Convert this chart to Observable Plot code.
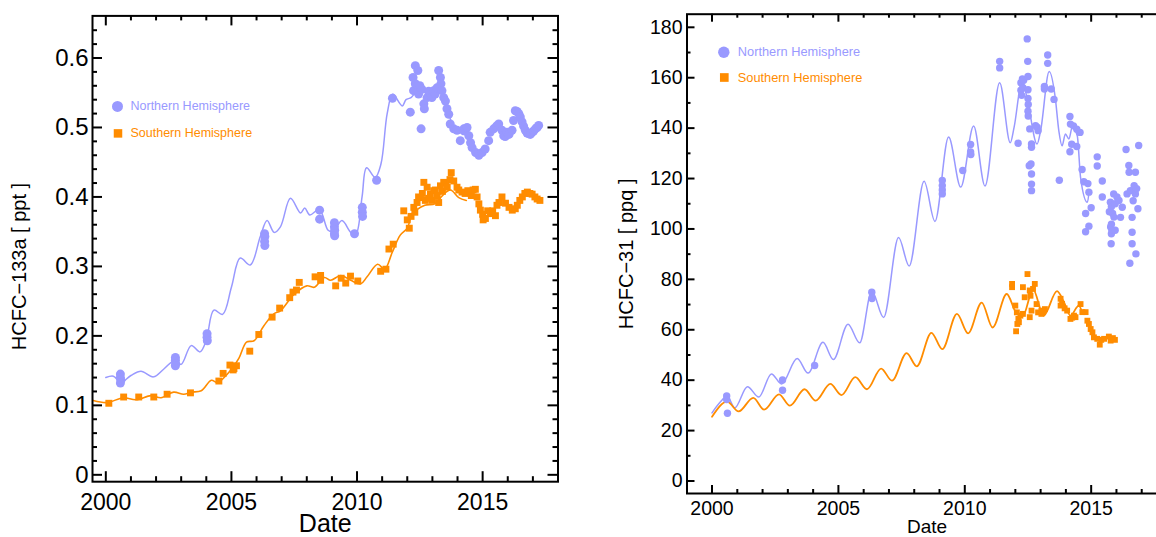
<!DOCTYPE html>
<html><head><meta charset="utf-8">
<script src="https://cdn.jsdelivr.net/npm/d3@7"></script>
<script src="https://cdn.jsdelivr.net/npm/@observablehq/plot@0.6"></script>
<style>
html,body{margin:0;padding:0;background:#fff;width:1156px;height:537px;overflow:hidden;position:relative;}
#p1{position:absolute;left:0;top:0;width:580px;height:537px;}
#p2{position:absolute;left:580px;top:0;width:600px;height:537px;}
#p1 svg,#p2 svg{max-width:none !important;display:block;}
</style></head>
<body><div id="p1"></div><div id="p2"></div>
<script>
const BLUE = "#9999ff";
const ORANGE = "#ff8c00";
const FONT = "'Liberation Sans', Arial, Helvetica, sans-serif";

const legendLabels = ["Northern Hemisphere", "Southern Hemisphere"];
const xTitle = "Date";

// ---------- HCFC-133a (left) ----------
const yTitle133 = "HCFC\u2212133a [ ppt ]";
const xMajor133 = [2000, 2005, 2010, 2015];
const xMinor133 = [2001, 2002, 2003, 2004, 2006, 2007, 2008, 2009, 2011, 2012, 2013, 2014, 2016, 2017];
const yMajor133 = [0, 0.1, 0.2, 0.3, 0.4, 0.5, 0.6];
const yMinor133 = [0.02, 0.04, 0.06, 0.08, 0.12, 0.14, 0.16, 0.18, 0.22, 0.24, 0.26, 0.28, 0.32, 0.34, 0.36, 0.38, 0.42, 0.44, 0.46, 0.48, 0.52, 0.54, 0.56, 0.58, 0.62, 0.64];

const nhLine133 = [[2000.0,0.140],[2000.3,0.142],[2000.6,0.133],[2001.0,0.143],[2001.4,0.149],[2001.9,0.141],[2002.3,0.152],[2002.75,0.165],[2003.0,0.159],[2003.4,0.186],[2003.75,0.177],[2004.0,0.194],[2004.3,0.237],[2004.65,0.231],[2005.0,0.27],[2005.35,0.312],[2005.75,0.302],[2006.15,0.343],[2006.42,0.366],[2006.7,0.349],[2006.95,0.357],[2007.35,0.398],[2007.75,0.377],[2007.92,0.384],[2008.12,0.374],[2008.5,0.382],[2008.85,0.352],[2009.05,0.350],[2009.4,0.366],[2009.75,0.349],[2009.95,0.346],[2010.2,0.40],[2010.38,0.442],[2010.72,0.428],[2010.95,0.447],[2011.2,0.52],[2011.42,0.548],[2011.8,0.531],[2011.95,0.54],[2012.15,0.543],[2012.5,0.556],[2012.9,0.545],[2013.3,0.558],[2013.5,0.535],[2013.85,0.502],[2014.2,0.49]];
const shLine133 = [[1999.5,0.107],[2000.05,0.104],[2000.7,0.111],[2001.2,0.108],[2001.8,0.114],[2002.2,0.111],[2002.7,0.119],[2003.1,0.116],[2003.4,0.119],[2003.8,0.121],[2004.2,0.136],[2004.45,0.133],[2005.0,0.152],[2005.3,0.168],[2005.6,0.191],[2005.9,0.193],[2006.3,0.215],[2006.7,0.232],[2006.95,0.236],[2007.5,0.260],[2008.0,0.272],[2008.3,0.270],[2008.7,0.284],[2008.95,0.280],[2009.35,0.287],[2009.75,0.280],[2010.15,0.275],[2010.4,0.285],[2010.82,0.303],[2011.1,0.296],[2011.4,0.320],[2011.72,0.345],[2012.0,0.355],[2012.2,0.375],[2012.7,0.388],[2013.1,0.390],[2013.4,0.402],[2013.72,0.410],[2014.05,0.399],[2014.35,0.395]];
const nhDots133 = [[2000.58,0.145],[2000.58,0.140],[2000.6,0.136],[2000.58,0.132],[2002.77,0.169],[2002.77,0.165],[2002.78,0.160],[2002.77,0.157],[2004.03,0.203],[2004.03,0.198],[2004.04,0.193],[2006.32,0.347],[2006.33,0.343],[2006.32,0.336],[2006.33,0.330],[2008.51,0.381],[2008.51,0.368],[2009.1,0.363],[2009.1,0.357],[2009.11,0.352],[2009.1,0.347],[2009.11,0.344],[2009.9,0.347],[2010.21,0.385],[2010.21,0.378],[2010.22,0.372],[2010.78,0.424],[2011.41,0.542],[2012.12,0.522],[2012.23,0.572],[2012.25,0.553],[2012.32,0.589],[2012.32,0.563],[2012.42,0.582],[2012.45,0.548],[2012.5,0.560],[2012.55,0.498],[2012.58,0.555],[2012.66,0.534],[2012.68,0.527],[2012.79,0.543],[2012.85,0.552],[2012.92,0.550],[2012.98,0.543],[2013.05,0.553],[2013.11,0.548],[2013.18,0.557],[2013.25,0.582],[2013.32,0.572],[2013.34,0.563],[2013.38,0.553],[2013.45,0.543],[2013.52,0.538],[2013.58,0.527],[2013.65,0.519],[2013.71,0.505],[2013.85,0.498],[2013.98,0.496],[2014.11,0.481],[2014.25,0.498],[2014.3,0.495],[2014.38,0.500],[2014.45,0.488],[2014.52,0.478],[2014.58,0.471],[2014.72,0.464],[2014.85,0.460],[2014.98,0.464],[2015.1,0.469],[2015.24,0.481],[2015.3,0.493],[2015.44,0.498],[2015.55,0.502],[2015.64,0.505],[2015.77,0.496],[2015.84,0.488],[2015.9,0.487],[2015.97,0.493],[2016.05,0.49],[2016.17,0.496],[2016.23,0.51],[2016.3,0.524],[2016.37,0.523],[2016.44,0.520],[2016.5,0.515],[2016.57,0.508],[2016.63,0.502],[2016.7,0.496],[2016.77,0.492],[2016.84,0.491],[2016.9,0.49],[2016.97,0.493],[2017.03,0.495],[2017.1,0.498],[2017.17,0.5],[2017.23,0.503]];
const shDots133 = [[2000.12,0.103],[2000.71,0.112],[2001.31,0.112],[2001.91,0.112],[2002.44,0.116],[2003.37,0.118],[2004.5,0.135],[2004.67,0.146],[2004.94,0.158],[2005.07,0.151],[2005.1,0.153],[2005.2,0.157],[2005.73,0.178],[2006.09,0.202],[2006.62,0.227],[2006.92,0.240],[2007.32,0.255],[2007.45,0.263],[2007.59,0.266],[2007.7,0.277],[2008.33,0.285],[2008.55,0.287],[2008.55,0.280],[2009.15,0.272],[2009.37,0.283],[2009.55,0.276],[2009.74,0.286],[2010.03,0.279],[2010.94,0.293],[2011.15,0.296],[2011.27,0.325],[2011.44,0.332],[2011.86,0.380],[2012.0,0.367],[2012.08,0.355],[2012.15,0.372],[2012.26,0.385],[2012.3,0.378],[2012.39,0.392],[2012.45,0.40],[2012.52,0.399],[2012.6,0.405],[2012.66,0.421],[2012.72,0.395],[2012.79,0.414],[2012.85,0.398],[2012.92,0.404],[2013.0,0.395],[2013.05,0.409],[2013.12,0.41],[2013.19,0.402],[2013.25,0.392],[2013.32,0.416],[2013.4,0.408],[2013.45,0.421],[2013.55,0.42],[2013.59,0.414],[2013.7,0.425],[2013.75,0.435],[2013.85,0.423],[2013.98,0.414],[2014.05,0.41],[2014.18,0.407],[2014.3,0.405],[2014.41,0.409],[2014.55,0.402],[2014.62,0.41],[2014.71,0.411],[2014.78,0.400],[2014.85,0.39],[2014.91,0.381],[2015.0,0.375],[2015.02,0.367],[2015.11,0.369],[2015.2,0.38],[2015.31,0.376],[2015.4,0.38],[2015.51,0.373],[2015.57,0.388],[2015.65,0.392],[2015.77,0.400],[2015.91,0.391],[2016.05,0.385],[2016.18,0.381],[2016.3,0.383],[2016.38,0.388],[2016.48,0.395],[2016.58,0.400],[2016.68,0.405],[2016.78,0.407],[2016.88,0.405],[2016.97,0.404],[2017.08,0.4],[2017.17,0.397],[2017.28,0.395]];

// ---------- HCFC-31 (right) ----------
const yTitle31 = "HCFC\u221231 [ ppq ]";
const xMajor31 = [2000, 2005, 2010, 2015];
const xMinor31 = [2001, 2002, 2003, 2004, 2006, 2007, 2008, 2009, 2011, 2012, 2013, 2014, 2016, 2017];
const yMajor31 = [0, 20, 40, 60, 80, 100, 120, 140, 160, 180];
const yMinor31 = [10, 30, 50, 70, 90, 110, 130, 150, 170];

const nhLine31 = [[2000.0,27],[2000.3,31],[2000.6,33.6],[2000.9,29],[2001.4,37.4],[2001.85,33.3],[2002.35,42.5],[2002.75,38.5],[2003.37,48.6],[2003.8,42.8],[2004.39,55],[2004.8,48.2],[2005.38,62.2],[2005.84,54.8],[2006.32,75.4],[2006.79,64.9],[2007.38,96.6],[2007.8,85.3],[2008.39,118.9],[2008.82,103],[2009.36,136.5],[2009.84,116.6],[2010.35,140.8],[2010.8,117],[2011.38,158],[2011.8,134.2],[2011.95,140.3],[2012.27,159],[2012.5,150],[2012.86,133.7],[2013.0,139],[2013.34,162.5],[2013.58,152],[2013.72,139],[2013.85,133],[2013.98,137.7],[2014.12,135.7],[2014.25,140.3],[2014.45,137],[2014.58,120.5],[2014.85,110.6],[2014.92,115]];
const shLine31 = [[2000.0,25.5],[2000.6,31.5],[2001.05,27.6],[2001.63,33],[2002.06,28.3],[2002.65,34.4],[2003.08,29.9],[2003.66,36.4],[2004.1,31.9],[2004.68,38.5],[2005.12,34.1],[2005.67,41.2],[2006.13,36.4],[2006.69,44.6],[2007.12,39.8],[2007.7,50.7],[2008.1,45.5],[2008.68,58.8],[2009.11,52.3],[2009.69,66.3],[2010.13,58.6],[2010.67,70.8],[2011.1,60.9],[2011.66,74.2],[2012.02,67],[2012.3,65.6],[2012.7,76],[2013.12,65.6],[2013.65,75.3],[2013.92,71],[2014.18,65.6],[2014.51,69.6],[2014.64,67]];
const nhDots31 = [[2000.58,33.7],[2000.58,32.3],[2000.61,26.9],[2002.79,40.1],[2002.79,36.0],[2004.06,45.8],[2006.32,74.9],[2006.33,72.4],[2009.11,119.2],[2009.11,117.2],[2009.11,115.5],[2009.11,113.9],[2009.92,123.2],[2010.23,133.5],[2010.23,130.5],[2010.24,129.5],[2011.38,166.5],[2011.38,163.9],[2012.11,134],[2012.22,158],[2012.28,159.5],[2012.33,159],[2012.22,155],[2012.25,153],[2012.3,156],[2012.47,175.4],[2012.49,166.5],[2012.5,160.5],[2012.5,155.2],[2012.5,151.8],[2012.51,149.4],[2012.5,146.7],[2012.51,144.8],[2012.57,139.7],[2012.64,133.7],[2012.64,132.4],[2012.55,125.1],[2012.62,125.8],[2012.64,121.8],[2012.64,117.8],[2012.64,115.2],[2012.86,140.4],[2012.9,139],[2012.8,141],[2013.15,155.5],[2013.15,156.5],[2013.28,169],[2013.28,165.7],[2013.42,155.5],[2013.53,151.4],[2013.74,119.3],[2014.16,144.6],[2014.18,141.6],[2014.3,140.9],[2014.43,139.6],[2014.56,138.3],[2014.16,130.6],[2014.23,133.6],[2014.43,132.7],[2014.64,123.6],[2014.71,118.7],[2014.87,118],[2014.91,114.6],[2014.78,106.1],[2014.78,98.9],[2014.91,101.1],[2015.0,108.4],[2015.24,128.6],[2015.24,125],[2015.44,119],[2015.44,112.7],[2015.76,110.6],[2015.8,108.8],[2015.72,106.8],[2015.85,106.1],[2015.8,101.9],[2015.77,100.8],[2015.8,98.1],[2015.82,99.5],[2015.79,94.1],[2015.89,113.9],[2015.95,110],[2016.02,112.7],[2015.9,104.7],[2015.95,99.5],[2016.1,111.3],[2016.16,104.6],[2016.23,108.6],[2016.42,113.9],[2016.55,115.2],[2016.38,131.5],[2016.49,125.2],[2016.5,122.5],[2016.75,122.5],[2016.75,113.9],[2016.62,104.6],[2016.62,98.7],[2016.62,94.1],[2016.53,86.4],[2016.77,90.1],[2016.85,108],[2016.88,133.1],[2016.7,117.2],[2016.66,111.2],[2016.8,116]];
const shDots31 = [[2011.87,78.2],[2011.87,76.9],[2012.0,69.6],[2012.06,66.9],[2012.12,64.3],[2012.08,62.3],[2012.03,59.4],[2012.14,63],[2012.2,65.6],[2012.3,66.3],[2012.3,76.9],[2012.37,72.9],[2012.48,82.1],[2012.57,65],[2012.64,67.6],[2012.57,75.6],[2012.7,76.2],[2012.77,78.2],[2012.6,73.5],[2012.84,70.2],[2012.9,66.9],[2013.03,67.6],[2013.17,68.2],[2013.03,66.3],[2013.1,67],[2013.79,72.3],[2013.85,70.3],[2013.79,69.6],[2013.95,68.5],[2014.05,67.6],[2014.18,64.3],[2014.32,65.6],[2014.38,65],[2014.25,64.8],[2014.58,70.2],[2014.65,67],[2014.78,67],[2014.85,63.6],[2014.91,62.3],[2014.98,60.3],[2015.05,59],[2015.11,57],[2015.24,56.4],[2015.34,54.1],[2015.4,56],[2015.51,56.4],[2015.7,57.3],[2015.77,55.7],[2015.86,56.7],[2015.94,56]];

function drawPanel(el, o) {
  const innerH = o.height - o.mt - o.mb;
  const innerW = o.width - o.ml - o.mr;
  const X = d => d[0], Y = d => d[1];
  const tk = {stroke: "#000", strokeWidth: 2};
  const chart = Plot.plot({
    width: o.width, height: o.height,
    marginLeft: o.ml, marginRight: o.mr, marginTop: o.mt, marginBottom: o.mb,
    style: {fontFamily: FONT, color: "#000", background: "transparent", overflow: "visible", maxWidth: "none"},
    x: {type: "linear", domain: o.xDomain, axis: null},
    y: {type: "linear", domain: o.yDomain, axis: null},
    marks: [
      Plot.line(o.nhLine, {x: X, y: Y, stroke: BLUE, strokeWidth: o.lineW, curve: o.curve}),
      Plot.line(o.shLine, {x: X, y: Y, stroke: ORANGE, strokeWidth: o.lineW2, curve: o.curve}),
      Plot.dot(o.nhDots, {x: X, y: Y, r: o.dotR, fill: BLUE}),
      Plot.dot(o.shDots, {x: X, y: Y, r: o.sqR, symbol: "square", fill: ORANGE}),
      Plot.tickX(o.xMajor, {x: d => d, insetBottom: innerH - o.majorLen, ...tk}),
      Plot.tickX(o.xMajor, {x: d => d, insetTop: innerH - o.majorLen, ...tk}),
      Plot.tickX(o.xMinor, {x: d => d, insetBottom: innerH - o.minorLen, ...tk}),
      Plot.tickX(o.xMinor, {x: d => d, insetTop: innerH - o.minorLen, ...tk}),
      Plot.tickY(o.yMajor, {y: d => d, insetRight: innerW - o.majorLen, ...tk}),
      Plot.tickY(o.yMajor, {y: d => d, insetLeft: innerW - o.majorLen, ...tk}),
      Plot.tickY(o.yMinor, {y: d => d, insetRight: innerW - o.minorLen, ...tk}),
      Plot.tickY(o.yMinor, {y: d => d, insetLeft: innerW - o.minorLen, ...tk}),
      Plot.frame({stroke: "#000", strokeWidth: 2}),
      Plot.axisX(o.xMajor, {anchor: "bottom", tickSize: 0, tickPadding: o.xPad, fontSize: o.xFont, tickFormat: d => String(d), label: null}),
      Plot.axisY(o.yMajor, {anchor: "left", tickSize: 0, tickPadding: o.yPad, fontSize: o.yFont, tickFormat: d => String(d), label: null}),
      Plot.text([o.yTitle], {frameAnchor: "left", rotate: -90, dx: o.yTitleDx, dy: o.yTitleDy, text: d => d, fontSize: o.yTitleFont, textAnchor: "middle", lineAnchor: "middle", fill: "#000"}),
      Plot.text([xTitle], {frameAnchor: "bottom", dy: o.dateDy, lineAnchor: "top", text: d => d, fontSize: o.dateFont, fill: "#000"}),
      Plot.dot([legendLabels[0]], {frameAnchor: "top-left", dx: o.lgDx, dy: o.lgDy1, r: o.lgR, fill: BLUE}),
      Plot.dot([legendLabels[1]], {frameAnchor: "top-left", dx: o.lgDx + 0.5, dy: o.lgDy2, r: o.lgSq, symbol: "square", fill: ORANGE}),
      Plot.text([legendLabels[0]], {frameAnchor: "top-left", dx: o.lgTx, dy: o.lgDy1, text: d => d, textAnchor: "start", lineAnchor: "middle", fontSize: o.lgFont, fill: BLUE}),
      Plot.text([legendLabels[1]], {frameAnchor: "top-left", dx: o.lgTx, dy: o.lgDy2, text: d => d, textAnchor: "start", lineAnchor: "middle", fontSize: o.lgFont, fill: ORANGE})
    ]
  });
  document.getElementById(el).appendChild(chart);
}

drawPanel("p1", {
  width: 580, height: 537, ml: 92, mr: 22.5, mt: 15.4, mb: 55.8,
  xDomain: [1999.47, 2018.0], yDomain: [-0.0099, 0.6606],
  nhLine: nhLine133, shLine: shLine133, nhDots: nhDots133, shDots: shDots133,
  xMajor: xMajor133, xMinor: xMinor133, yMajor: yMajor133, yMinor: yMinor133,
  curve: "catmull-rom", lineW: 1.5, lineW2: 1.6, dotR: 4.5, sqR: 3.9,
  majorLen: 10, minorLen: 5, xPad: 12, yPad: 4, xFont: 23, yFont: 24,
  yTitle: yTitle133, yTitleDx: -72.6, yTitleDy: 17.7, yTitleFont: 20,
  dateDy: 32.5, dateFont: 25,
  lgDx: 25, lgDy1: 90.5, lgDy2: 117.5, lgR: 5.5, lgSq: 4.8, lgTx: 38, lgFont: 12.5
});

drawPanel("p2", {
  width: 600, height: 537, ml: 106.5, mr: 13.5, mt: 13.7, mb: 44,
  xDomain: [1999.01, 2018.0], yDomain: [-4.96, 185.2],
  nhLine: nhLine31, shLine: shLine31, nhDots: nhDots31, shDots: shDots31,
  xMajor: xMajor31, xMinor: xMinor31, yMajor: yMajor31, yMinor: yMinor31,
  curve: "monotone-x", lineW: 1.5, lineW2: 1.8, dotR: 3.7, sqR: 3.3,
  majorLen: 8, minorLen: 4, xPad: 8, yPad: 4.5, xFont: 19.5, yFont: 19.5,
  yTitle: yTitle31, yTitleDx: -60.9, yTitleDy: 0, yTitleFont: 20,
  dateDy: 26, dateFont: 19,
  lgDx: 36.8, lgDy1: 38, lgDy2: 63.3, lgR: 5.7, lgSq: 4.9, lgTx: 50.8, lgFont: 12.8
});
</script>
</body></html>
